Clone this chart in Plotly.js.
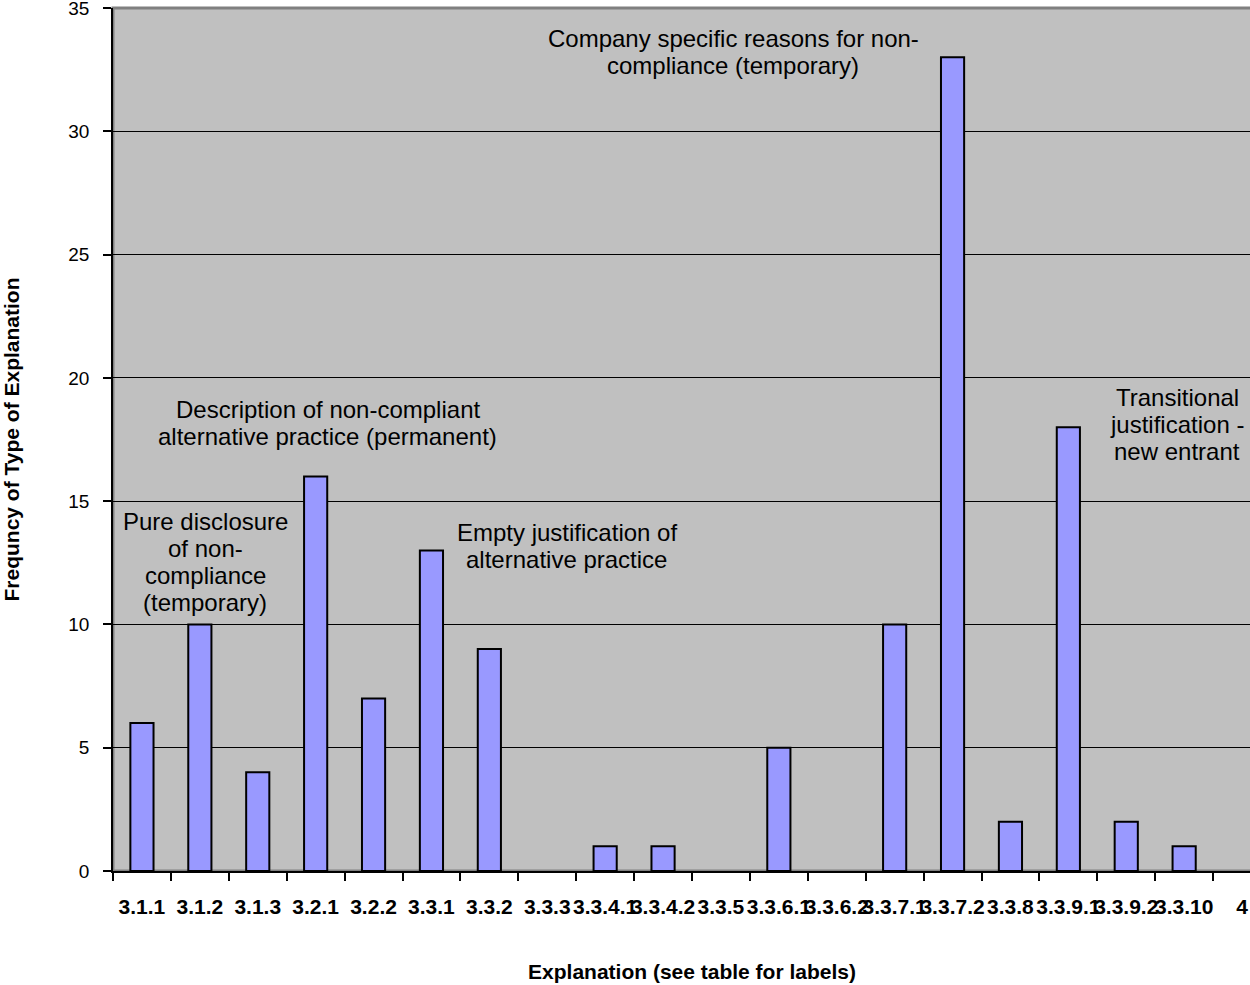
<!DOCTYPE html>
<html>
<head>
<meta charset="utf-8">
<script src="https://cdn.plot.ly/plotly-3.0.1.min.js"></script>
<style>
html, body { margin: 0; padding: 0; overflow: hidden; background: #ffffff; }
#chart { width: 1280px; height: 985px; }
</style>
</head>
<body>
<div id="chart"></div>
<script>
const categories = ["3.1.1", "3.1.2", "3.1.3", "3.2.1", "3.2.2", "3.3.1", "3.3.2", "3.3.3", "3.3.4.1", "3.3.4.2", "3.3.5", "3.3.6.1", "3.3.6.2", "3.3.7.1", "3.3.7.2", "3.3.8", "3.3.9.1", "3.3.9.2", "3.3.10", "4"];
const frequency = [6, 10, 4, 16, 7, 13, 9, 0, 1, 1, 0, 5, 0, 10, 33, 2, 18, 2, 1, 0];
const yTickValues = [0, 5, 10, 15, 20, 25, 30, 35];

const groupLabels = [
  ["Company specific reasons for non-", "compliance (temporary)"],
  ["Description of non-compliant", "alternative practice (permanent)"],
  ["Pure disclosure", "of non-", "compliance", "(temporary)"],
  ["Empty justification of", "alternative practice"],
  ["Transitional", "justification -", "new entrant"]
];
const groupLabelX = [10.21, 3.21, 1.09, 7.34, 17.88];
const groupLabelY = [33.2, 18.15, 12.55, 13.2, 18.1];

const font = "Liberation Sans, Arial, sans-serif";
const lineGap = 27;

const trace = {
  type: "bar",
  x: categories,
  y: frequency,
  width: 0.4,
  marker: {
    color: "#9999FF",
    line: { color: "#000000", width: frequency.map(v => v > 0 ? 2 : 0) }
  },
  hoverinfo: "x+y"
};

const annotations = [];
groupLabels.forEach((lines, i) => {
  const n = lines.length;
  lines.forEach((line, j) => {
    annotations.push({
      text: line,
      x: groupLabelX[i],
      y: groupLabelY[i],
      yshift: -(j - (n - 1) / 2) * lineGap,
      xref: "x",
      yref: "y",
      showarrow: false,
      xanchor: "center",
      yanchor: "middle",
      align: "center",
      font: { family: font, size: 24, color: "#000000" }
    });
  });
});

const layout = {
  width: 1280,
  height: 985,
  margin: { l: 113, r: 9, t: 8, b: 114 },
  paper_bgcolor: "#ffffff",
  plot_bgcolor: "#C0C0C0",
  showlegend: false,
  xaxis: {
    type: "category",
    categoryorder: "array",
    categoryarray: categories,
    range: [-0.5, 19.5],
    tickmode: "array",
    tickvals: categories,
    ticktext: categories,
    tickson: "boundaries",
    ticks: "outside",
    ticklen: 8,
    tickwidth: 2,
    tickcolor: "#000000",
    tickangle: 0,
    ticklabelstandoff: 16,
    ticklabeloverflow: "allow",
    tickfont: { family: font, size: 21, color: "#000000", weight: "bold" },
    showline: true,
    linecolor: "#000000",
    linewidth: 2,
    showgrid: false,
    zeroline: false,
    automargin: false,
    title: { text: "Explanation (see table for labels)", standoff: 47, font: { family: font, size: 21, color: "#000000", weight: "bold" } }
  },
  yaxis: {
    range: [0, 35],
    tickmode: "array",
    tickvals: yTickValues,
    ticks: "outside",
    ticklen: 8,
    tickwidth: 1.5,
    tickcolor: "#000000",
    ticklabelstandoff: 10,
    ticklabeloverflow: "allow",
    tickfont: { family: font, size: 19, color: "#000000" },
    showline: true,
    linecolor: "#000000",
    linewidth: 1.5,
    showgrid: true,
    gridcolor: "#000000",
    gridwidth: 1,
    zeroline: false,
    automargin: false,
    title: { text: "Frequncy of Type of Explanation", standoff: 43, font: { family: font, size: 21, color: "#000000", weight: "bold" } }
  },
  shapes: [{
    type: "rect", xref: "paper", yref: "paper", x0: 0, x1: 1, y0: 0, y1: 1,
    line: { color: "#808080", width: 3 }, layer: "below"
  }],
  annotations: annotations
};

Plotly.newPlot("chart", [trace], layout, { displayModeBar: false });
</script>
</body>
</html>
